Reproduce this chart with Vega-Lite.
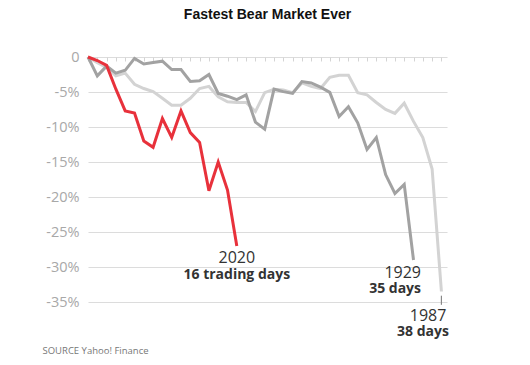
{
  "$schema": "https://vega.github.io/schema/vega-lite/v6.json",
  "width": 359,
  "height": 245,
  "autosize": {"type": "none"},
  "padding": {"left": 88, "top": 57, "right": 83, "bottom": 63},
  "background": "white",
  "title": {
    "text": "Fastest Bear Market Ever",
    "font": "Liberation Sans",
    "fontSize": 14,
    "fontWeight": "bold",
    "color": "#111111",
    "anchor": "middle",
    "offset": 27
  },
  "config": {"view": {"stroke": null}},
  "datasets": {
    "lines": [
      {"series": "1987", "day": 0, "value": 0},
      {"series": "1987", "day": 1, "value": -0.8},
      {"series": "1987", "day": 2, "value": -1.5},
      {"series": "1987", "day": 3, "value": -2.7},
      {"series": "1987", "day": 4, "value": -2.3},
      {"series": "1987", "day": 5, "value": -3.9},
      {"series": "1987", "day": 6, "value": -4.5},
      {"series": "1987", "day": 7, "value": -4.95},
      {"series": "1987", "day": 8, "value": -5.9},
      {"series": "1987", "day": 9, "value": -6.9},
      {"series": "1987", "day": 10, "value": -6.9},
      {"series": "1987", "day": 11, "value": -5.9},
      {"series": "1987", "day": 12, "value": -4.5},
      {"series": "1987", "day": 13, "value": -4.2},
      {"series": "1987", "day": 14, "value": -5.7},
      {"series": "1987", "day": 15, "value": -6.4},
      {"series": "1987", "day": 16, "value": -6.5},
      {"series": "1987", "day": 17, "value": -6.5},
      {"series": "1987", "day": 18, "value": -7.8},
      {"series": "1987", "day": 19, "value": -5.1},
      {"series": "1987", "day": 20, "value": -4.6},
      {"series": "1987", "day": 21, "value": -4.7},
      {"series": "1987", "day": 22, "value": -5.1},
      {"series": "1987", "day": 23, "value": -3.7},
      {"series": "1987", "day": 24, "value": -4.2},
      {"series": "1987", "day": 25, "value": -4.5},
      {"series": "1987", "day": 26, "value": -2.9},
      {"series": "1987", "day": 27, "value": -2.6},
      {"series": "1987", "day": 28, "value": -2.6},
      {"series": "1987", "day": 29, "value": -5.1},
      {"series": "1987", "day": 30, "value": -5.4},
      {"series": "1987", "day": 31, "value": -6.5},
      {"series": "1987", "day": 32, "value": -7.5},
      {"series": "1987", "day": 33, "value": -8.05},
      {"series": "1987", "day": 34, "value": -6.6},
      {"series": "1987", "day": 35, "value": -9.2},
      {"series": "1987", "day": 36, "value": -11.5},
      {"series": "1987", "day": 37, "value": -16.0},
      {"series": "1987", "day": 38, "value": -33.5},
      {"series": "1929", "day": 0, "value": 0},
      {"series": "1929", "day": 1, "value": -2.7},
      {"series": "1929", "day": 2, "value": -1.3},
      {"series": "1929", "day": 3, "value": -2.3},
      {"series": "1929", "day": 4, "value": -1.9},
      {"series": "1929", "day": 5, "value": -0.2},
      {"series": "1929", "day": 6, "value": -1.0},
      {"series": "1929", "day": 7, "value": -0.8},
      {"series": "1929", "day": 8, "value": -0.6},
      {"series": "1929", "day": 9, "value": -1.8},
      {"series": "1929", "day": 10, "value": -1.8},
      {"series": "1929", "day": 11, "value": -3.5},
      {"series": "1929", "day": 12, "value": -3.4},
      {"series": "1929", "day": 13, "value": -2.5},
      {"series": "1929", "day": 14, "value": -5.2},
      {"series": "1929", "day": 15, "value": -5.6},
      {"series": "1929", "day": 16, "value": -6.1},
      {"series": "1929", "day": 17, "value": -5.4},
      {"series": "1929", "day": 18, "value": -9.3},
      {"series": "1929", "day": 19, "value": -10.3},
      {"series": "1929", "day": 20, "value": -4.6},
      {"series": "1929", "day": 21, "value": -4.95},
      {"series": "1929", "day": 22, "value": -5.2},
      {"series": "1929", "day": 23, "value": -3.5},
      {"series": "1929", "day": 24, "value": -3.7},
      {"series": "1929", "day": 25, "value": -4.3},
      {"series": "1929", "day": 26, "value": -5.05},
      {"series": "1929", "day": 27, "value": -8.5},
      {"series": "1929", "day": 28, "value": -7.1},
      {"series": "1929", "day": 29, "value": -9.4},
      {"series": "1929", "day": 30, "value": -13.2},
      {"series": "1929", "day": 31, "value": -11.5},
      {"series": "1929", "day": 32, "value": -16.8},
      {"series": "1929", "day": 33, "value": -19.5},
      {"series": "1929", "day": 34, "value": -18.2},
      {"series": "1929", "day": 35, "value": -29.0},
      {"series": "2020", "day": 0, "value": 0},
      {"series": "2020", "day": 1, "value": -0.5},
      {"series": "2020", "day": 2, "value": -1.2},
      {"series": "2020", "day": 3, "value": -4.6},
      {"series": "2020", "day": 4, "value": -7.7},
      {"series": "2020", "day": 5, "value": -8.0},
      {"series": "2020", "day": 6, "value": -12.0},
      {"series": "2020", "day": 7, "value": -12.9},
      {"series": "2020", "day": 8, "value": -8.8},
      {"series": "2020", "day": 9, "value": -11.5},
      {"series": "2020", "day": 10, "value": -7.7},
      {"series": "2020", "day": 11, "value": -10.8},
      {"series": "2020", "day": 12, "value": -12.2},
      {"series": "2020", "day": 13, "value": -19.1},
      {"series": "2020", "day": 14, "value": -15.0},
      {"series": "2020", "day": 15, "value": -19.0},
      {"series": "2020", "day": 16, "value": -27.0}
    ],
    "labels": [
      {"series": "2020", "day": 16, "value": -27.0, "year": "2020", "days": "16 trading days"},
      {"series": "1929", "day": 35, "value": -29.0, "year": "1929", "days": "35 days"},
      {"series": "1987", "day": 38, "value": -33.5, "year": "1987", "days": "38 days"}
    ],
    "leader": [
      {"day": 38, "value": -34.1, "value2": -35.4}
    ]
  },
  "layer": [
    {
      "data": {"name": "lines"},
      "mark": {"type": "line", "strokeWidth": 3, "strokeJoin": "miter", "clip": false},
      "encoding": {
        "x": {
          "field": "day", "type": "quantitative",
          "scale": {"domain": [0, 38.6], "nice": false},
          "axis": {
            "orient": "top", "title": null, "labels": false,
            "values": [0,1,2,3,4,5,6,7,8,9,10,11,12,13,14,15,16,17,18,19,20,21,22,23,24,25,26,27,28,29,30,31,32,33,34,35,36,37,38],
            "tickSize": -4, "tickColor": "#d4d4d4", "tickWidth": 1,
            "domain": false, "grid": false
          }
        },
        "y": {
          "field": "value", "type": "quantitative",
          "scale": {"domain": [-35, 0], "nice": false},
          "axis": {
            "title": null,
            "values": [0, -5, -10, -15, -20, -25, -30, -35],
            "labelExpr": "datum.value == 0 ? '0' : datum.value + '%'",
            "labelFont": "Open Sans", "labelFontSize": 14.5, "labelColor": "#a8a8a8",
            "labelPadding": 9, "ticks": false, "domain": false,
            "grid": true, "gridColor": "#dcdcdc", "gridWidth": 1.2
          }
        },
        "color": {
          "field": "series", "type": "nominal",
          "scale": {"domain": ["1987", "1929", "2020"], "range": ["#d3d3d3", "#a2a2a2", "#e8313b"]},
          "legend": null
        },
        "order": {"field": "day"}
      }
    },
    {
      "data": {"name": "leader"},
      "mark": {"type": "rule", "color": "#888888", "strokeWidth": 1.2, "clip": false},
      "encoding": {
        "x": {
          "field": "day", "type": "quantitative",
          "axis": {
            "orient": "bottom", "title": "SOURCE Yahoo! Finance",
            "labels": false, "ticks": false, "domain": false, "grid": false,
            "titleFont": "Open Sans", "titleFontSize": 9.5, "titleFontWeight": "normal",
            "titleColor": "#777777", "titleAlign": "left", "titleAnchor": "start",
            "titleX": -46, "titleY": 48, "titleBaseline": "middle"
          }
        },
        "y": {"field": "value", "type": "quantitative", "axis": null},
        "y2": {"field": "value2"}
      }
    },
    {
      "data": {"name": "labels"},
      "transform": [{"filter": "datum.series == '2020'"}],
      "layer": [
        {
          "mark": {"type": "text", "font": "Open Sans", "fontSize": 16, "color": "#333333", "align": "center", "baseline": "middle", "dy": 12, "clip": false},
          "encoding": {
            "x": {"field": "day", "type": "quantitative", "axis": null},
            "y": {"field": "value", "type": "quantitative", "axis": null},
            "text": {"field": "year"}
          }
        },
        {
          "mark": {"type": "text", "font": "Open Sans", "fontSize": 14, "fontWeight": "bold", "color": "#333333", "align": "center", "baseline": "middle", "dy": 29, "clip": false},
          "encoding": {
            "x": {"field": "day", "type": "quantitative", "axis": null},
            "y": {"field": "value", "type": "quantitative", "axis": null},
            "text": {"field": "days"}
          }
        }
      ]
    },
    {
      "data": {"name": "labels"},
      "transform": [{"filter": "datum.series == '1929'"}],
      "layer": [
        {
          "mark": {"type": "text", "font": "Open Sans", "fontSize": 16, "color": "#333333", "align": "right", "baseline": "middle", "dx": 7.5, "dy": 13, "clip": false},
          "encoding": {
            "x": {"field": "day", "type": "quantitative", "axis": null},
            "y": {"field": "value", "type": "quantitative", "axis": null},
            "text": {"field": "year"}
          }
        },
        {
          "mark": {"type": "text", "font": "Open Sans", "fontSize": 14, "fontWeight": "bold", "color": "#333333", "align": "right", "baseline": "middle", "dx": 7.5, "dy": 29, "clip": false},
          "encoding": {
            "x": {"field": "day", "type": "quantitative", "axis": null},
            "y": {"field": "value", "type": "quantitative", "axis": null},
            "text": {"field": "days"}
          }
        }
      ]
    },
    {
      "data": {"name": "labels"},
      "transform": [{"filter": "datum.series == '1987'"}],
      "layer": [
        {
          "mark": {"type": "text", "font": "Open Sans", "fontSize": 16, "color": "#333333", "align": "right", "baseline": "middle", "dx": 5, "dy": 24, "clip": false},
          "encoding": {
            "x": {"field": "day", "type": "quantitative", "axis": null},
            "y": {"field": "value", "type": "quantitative", "axis": null},
            "text": {"field": "year"}
          }
        },
        {
          "mark": {"type": "text", "font": "Open Sans", "fontSize": 14, "fontWeight": "bold", "color": "#333333", "align": "right", "baseline": "middle", "dx": 7.5, "dy": 40, "clip": false},
          "encoding": {
            "x": {"field": "day", "type": "quantitative", "axis": null},
            "y": {"field": "value", "type": "quantitative", "axis": null},
            "text": {"field": "days"}
          }
        }
      ]
    }
  ],
  "resolve": {"axis": {"x": "independent", "y": "independent"}}
}
